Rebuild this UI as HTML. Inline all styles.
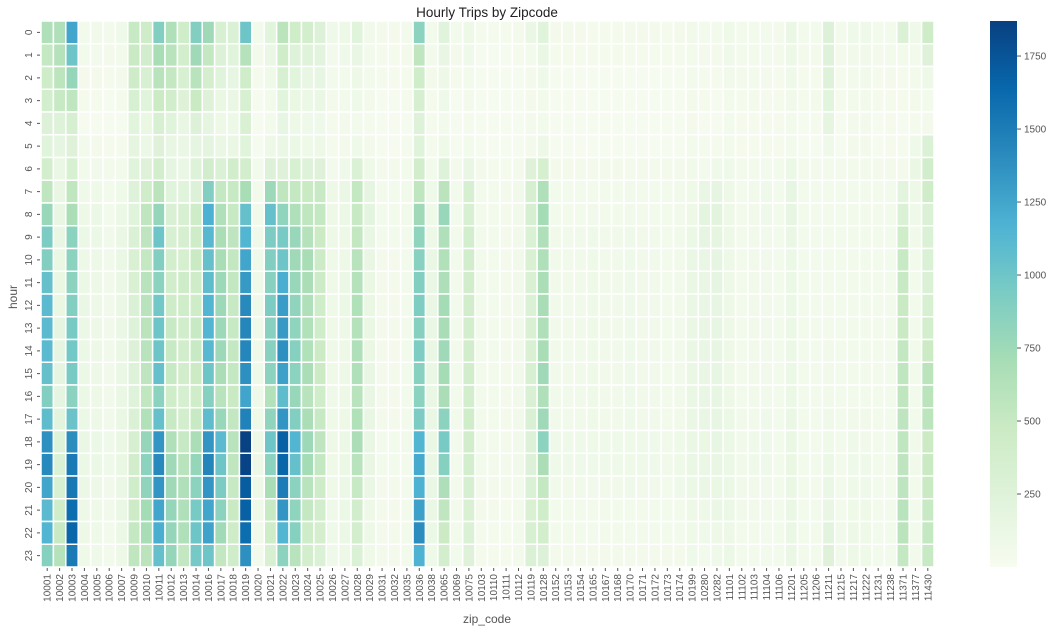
<!DOCTYPE html>
<html><head><meta charset="utf-8"><style>
html,body{margin:0;padding:0;background:#fff;}
svg{display:block;font-family:"Liberation Sans","DejaVu Sans",sans-serif;}
</style></head><body>
<svg id="chart" width="1056" height="630" viewBox="0 0 1056 630" xmlns="http://www.w3.org/2000/svg">
<defs>
<linearGradient id="cbgrad" x1="0" y1="1" x2="0" y2="0">
<stop offset="0" stop-color="#f7fcf0"/><stop offset="0.125" stop-color="#e0f3db"/><stop offset="0.25" stop-color="#ccebc5"/><stop offset="0.375" stop-color="#a8ddb5"/><stop offset="0.5" stop-color="#7bccc4"/><stop offset="0.625" stop-color="#4eb3d3"/><stop offset="0.75" stop-color="#2b8cbe"/><stop offset="0.875" stop-color="#0868ac"/><stop offset="1" stop-color="#084081"/>
</linearGradient>
</defs>
<text x="487" y="17" text-anchor="middle" font-size="13.5" fill="#222">Hourly Trips by Zipcode</text>
<g id="cells"></g>
<g id="yaxis"></g>
<g id="xaxis"></g>
<text transform="translate(17,297) rotate(-90)" text-anchor="middle" font-size="12" fill="#555">hour</text>
<text x="487" y="623" text-anchor="middle" font-size="12" fill="#555">zip_code</text>
<rect x="990" y="21" width="27" height="546" fill="url(#cbgrad)"/>
<g id="cbaxis"></g>
</svg>
<script>
const zips = ["10001","10002","10003","10004","10005","10006","10007","10009","10010","10011","10012","10013","10014","10016","10017","10018","10019","10020","10021","10022","10023","10024","10025","10026","10027","10028","10029","10031","10032","10035","10036","10038","10065","10069","10075","10103","10110","10111","10112","10119","10128","10152","10153","10154","10165","10167","10168","10170","10171","10172","10173","10174","10199","10280","10282","11101","11102","11103","11104","11106","11201","11205","11206","11211","11215","11217","11222","11231","11238","11371","11377","11430"];
const hours = ["0","1","2","3","4","5","6","7","8","9","10","11","12","13","14","15","16","17","18","19","20","21","22","23"];
const cbTicks = [250,500,750,1000,1250,1500,1750];
const vmin = 0, vmax = 1870;
// trips[zipIndex][hour]
const trips = [
[650,520,430,380,280,230,380,550,780,930,900,1050,1100,1100,1100,1050,900,1080,1380,1420,1250,1100,1150,880],
[650,620,570,500,270,170,120,150,150,150,140,140,140,170,170,170,170,200,270,300,330,420,500,620],
[1250,1000,800,550,350,250,330,550,680,850,850,850,900,950,980,950,850,1020,1400,1520,1530,1600,1650,1520],
[60,50,40,30,20,50,60,80,100,110,100,110,120,110,110,110,110,110,120,110,110,100,100,90],
[70,60,40,30,20,40,70,90,110,110,100,100,100,100,100,100,100,100,110,110,100,90,90,80],
[50,40,30,20,15,30,50,60,60,70,70,70,70,70,70,70,70,70,80,80,70,70,60,50],
[80,60,40,30,20,30,60,90,110,120,120,120,120,120,120,120,120,130,140,140,130,120,110,100],
[500,480,440,330,220,180,230,270,230,300,320,320,290,260,280,260,240,300,350,400,420,460,520,550],
[450,400,330,230,140,110,250,420,550,560,520,600,600,580,600,560,540,640,800,850,820,720,700,580],
[900,700,600,470,330,250,380,580,800,1000,900,850,980,1000,1000,1050,850,1050,1350,1420,1350,1250,1200,1050],
[650,600,520,400,230,150,170,230,310,330,380,400,450,500,500,500,420,500,650,750,750,800,800,800],
[420,380,330,250,150,120,130,230,330,350,360,430,420,400,400,400,340,380,500,600,650,650,650,530],
[900,750,600,480,280,170,260,280,440,450,480,450,450,500,500,470,420,500,680,800,850,950,1000,960],
[750,520,370,250,180,190,400,900,1180,1120,1050,1080,1150,1150,1120,1000,880,1080,1350,1450,1350,1250,1270,1000],
[330,280,230,140,100,130,300,520,650,680,700,760,760,760,760,680,600,780,1100,1000,930,850,740,530],
[300,230,160,120,100,120,400,500,500,560,530,530,500,500,520,520,480,530,600,550,500,480,430,420],
[1000,620,420,330,320,230,380,700,1050,1150,1250,1320,1420,1440,1440,1380,1260,1470,1860,1850,1700,1680,1600,1380],
[60,40,30,20,15,20,50,60,70,80,80,80,80,80,80,80,80,90,100,100,100,90,70,60],
[220,130,90,60,50,100,280,760,1050,930,900,870,930,870,870,850,630,820,1000,850,700,500,430,330],
[580,420,330,220,160,130,250,550,830,950,1000,1200,1300,1320,1380,1280,1080,1350,1680,1650,1500,1350,1150,850],
[420,270,220,140,100,110,330,520,650,780,750,780,820,830,880,850,780,900,1150,1050,850,830,880,600],
[380,240,150,110,80,90,270,480,550,620,700,680,650,640,640,680,600,680,760,720,600,520,440,380],
[280,200,160,120,80,100,250,500,520,470,460,460,420,420,470,470,420,500,560,520,440,400,370,300],
[80,60,50,40,30,30,60,100,100,100,90,90,90,90,90,90,80,90,100,90,90,80,80,80],
[100,80,60,50,40,40,80,120,110,100,100,110,110,100,100,100,100,100,110,110,110,110,110,100],
[230,150,100,80,60,80,300,520,500,530,600,620,640,620,650,650,600,640,680,600,500,400,380,300],
[70,60,50,40,30,40,90,170,190,150,150,140,140,140,140,150,150,150,150,150,120,100,100,90],
[40,35,30,25,20,25,40,50,50,50,45,45,45,45,45,45,45,45,50,50,45,45,45,40],
[40,35,30,25,20,25,40,50,50,50,45,45,45,45,45,45,45,45,50,50,45,45,45,40],
[50,40,35,30,25,30,50,70,70,60,60,60,60,60,60,60,60,60,70,60,60,60,55,50],
[850,550,420,340,270,240,400,550,750,830,870,900,920,880,920,870,850,930,1150,1220,1170,1280,1400,1170],
[60,50,40,30,30,30,50,80,90,100,120,120,130,130,130,130,120,120,130,130,120,120,110,90],
[230,150,100,80,60,90,260,580,780,650,640,660,720,700,750,720,680,850,950,880,660,550,470,380],
[50,40,30,25,20,25,40,60,60,60,55,55,55,55,55,55,55,55,60,60,55,55,50,50],
[100,80,50,40,30,50,150,350,330,380,400,400,400,380,400,400,380,420,400,380,350,320,300,250],
[30,25,20,20,15,20,40,50,50,50,50,50,50,50,50,50,50,50,50,50,45,40,35,30],
[30,25,20,20,15,20,35,50,50,50,50,50,50,50,50,50,50,50,50,45,40,40,35,30],
[30,25,20,20,15,20,35,45,45,45,45,45,45,45,45,45,45,45,45,40,40,35,35,30],
[40,30,25,20,15,20,45,70,70,70,65,65,65,65,65,65,65,70,70,65,60,55,50,45],
[120,60,40,40,40,40,250,340,340,300,320,320,300,320,320,330,310,310,280,280,300,320,330,300],
[230,120,80,60,60,100,360,650,720,650,650,680,700,650,700,750,650,750,850,680,520,420,380,280],
[40,30,25,20,15,20,40,60,60,70,70,70,70,70,70,70,70,70,80,80,70,60,50,45],
[40,30,25,20,15,20,40,60,60,70,70,70,70,70,70,70,70,70,80,80,70,60,50,45],
[40,30,25,20,15,20,40,60,60,70,70,70,70,70,70,70,70,70,80,80,70,60,50,45],
[35,30,25,20,15,20,40,60,70,80,90,90,90,90,90,90,90,90,90,80,70,60,50,40],
[35,30,25,20,15,20,40,60,60,70,70,70,70,70,70,70,70,70,80,80,70,60,50,45],
[35,30,25,20,15,20,40,60,60,70,70,70,70,70,70,70,70,70,80,80,70,60,50,45],
[40,30,25,20,15,20,40,70,70,80,80,80,80,80,80,80,80,80,90,90,80,60,50,45],
[40,30,25,20,15,20,40,60,60,70,70,70,70,70,70,70,70,70,80,80,70,60,50,45],
[40,30,25,20,15,20,40,60,60,70,70,70,70,70,70,70,70,70,80,80,70,60,50,45],
[35,30,25,20,15,20,40,60,60,60,60,60,60,60,60,60,60,60,70,70,60,55,50,40],
[40,30,25,20,15,20,40,70,70,70,70,70,70,70,70,70,70,70,90,90,80,60,50,45],
[70,60,50,40,40,50,70,90,100,110,120,120,120,120,120,120,120,120,120,120,110,100,90,80],
[50,40,35,30,25,30,60,150,190,170,150,150,150,150,150,150,150,150,140,130,120,100,80,60],
[50,40,30,25,20,30,80,170,200,180,170,170,160,160,160,160,160,160,160,150,140,120,100,80],
[90,80,70,60,60,60,80,100,100,100,100,100,100,100,100,100,100,110,110,110,110,110,100,110],
[60,50,40,35,30,35,50,60,60,60,60,60,60,60,60,60,60,70,70,70,70,70,60,60],
[60,60,50,40,35,35,50,70,70,70,70,70,70,70,70,70,70,70,80,80,70,70,60,60],
[60,50,40,35,35,35,60,80,80,70,70,70,70,70,70,70,70,80,80,80,70,70,60,60],
[40,40,35,30,30,30,50,60,60,60,60,60,60,60,60,60,60,60,60,60,60,60,50,50],
[120,100,80,70,60,60,110,160,160,130,110,110,110,110,110,110,110,130,140,140,140,130,120,120],
[50,40,35,30,25,25,40,50,50,50,50,50,50,50,50,50,50,50,50,50,50,50,50,50],
[50,40,35,40,30,25,40,50,50,50,50,50,50,50,50,50,50,50,50,50,50,50,50,50],
[280,270,270,220,180,80,60,60,60,60,60,60,60,60,70,70,70,80,90,110,120,150,200,250],
[50,40,35,30,25,25,40,50,50,50,50,50,50,50,50,50,50,60,60,60,60,60,70,70],
[80,70,60,50,40,40,50,60,60,60,60,60,60,60,60,60,60,70,80,80,90,90,100,100],
[80,70,70,60,40,40,50,60,60,60,60,60,60,60,60,60,60,70,70,80,80,90,90,90],
[50,40,35,30,25,25,40,50,50,50,50,50,50,50,50,50,50,50,50,50,50,50,50,50],
[60,50,40,35,30,30,40,50,50,50,50,50,50,50,50,50,50,50,60,60,60,60,60,60],
[300,60,30,30,20,30,40,200,300,420,500,500,480,480,530,550,550,560,550,560,560,600,580,520],
[80,60,50,40,30,80,120,100,80,70,60,60,60,60,60,60,60,60,70,70,60,60,60,60],
[430,250,100,60,40,300,400,420,300,300,300,300,330,380,470,580,580,570,470,480,480,500,520,500]
];

const X0 = 41, X1 = 934, Y0 = 21, Y1 = 567;
const cw = (X1 - X0) / zips.length, ch = (Y1 - Y0) / hours.length;
const xPos = i => X0 + i * cw;
const yPos = j => Y0 + j * ch;
const cbY = v => Y1 - (v - vmin) / (vmax - vmin) * (Y1 - Y0);
const stops = ["#f7fcf0","#e0f3db","#ccebc5","#a8ddb5","#7bccc4","#4eb3d3","#2b8cbe","#0868ac","#084081"].map(h => [parseInt(h.substr(1,2),16),parseInt(h.substr(3,2),16),parseInt(h.substr(5,2),16)]);
function color(v){
  let t = Math.max(0, Math.min(1, (v - vmin) / (vmax - vmin))) * (stops.length - 1);
  let k = Math.min(Math.floor(t), stops.length - 2), f = t - k;
  const c = stops[k].map((a, n) => Math.round(a + (stops[k+1][n] - a) * f));
  return `rgb(${c[0]},${c[1]},${c[2]})`;
}
const NS = "http://www.w3.org/2000/svg";
function mk(tag, attrs, parent){ const e = document.createElementNS(NS, tag); for (const k in attrs) e.setAttribute(k, attrs[k]); parent.appendChild(e); return e; }
const cells = document.getElementById('cells');
trips.forEach((col, i) => {
  col.forEach((v, j) => {
    const r = mk('rect', {x: xPos(i), y: yPos(j), width: cw, height: ch, fill: color(v), stroke: '#fff', 'stroke-width': 1.5}, cells);
    
    
  });
});
const ya = document.getElementById('yaxis');
hours.forEach((h, j) => {
  const cy = yPos(j) + ch / 2;
  mk('line', {x1: X0 - 4, x2: X0 - 1, y1: cy, y2: cy, stroke: '#555', 'stroke-width': 1}, ya);
  const t = mk('text', {transform: `translate(32,${cy}) rotate(-90)`, 'text-anchor': 'middle', 'font-size': 10, fill: '#555'}, ya);
  t.textContent = h;
  
  
});
const xa = document.getElementById('xaxis');
zips.forEach((z, i) => {
  const cx = xPos(i) + cw / 2;
  mk('line', {x1: cx, x2: cx, y1: Y1 + 1, y2: Y1 + 4, stroke: '#555', 'stroke-width': 1}, xa);
  const t = mk('text', {transform: `translate(${cx + 3.5},${Y1 + 7}) rotate(-90)`, 'text-anchor': 'end', 'font-size': 10, fill: '#555'}, xa);
  t.textContent = z;
  
  
});
const cb = document.getElementById('cbaxis');
cbTicks.forEach(v => {
  const y = cbY(v);
  mk('line', {x1: 1017, x2: 1021, y1: y, y2: y, stroke: '#555', 'stroke-width': 1}, cb);
  const t = mk('text', {x: 1024, y: y + 3.5, 'font-size': 10, fill: '#555'}, cb);
  t.textContent = v;
  
  
});
</script>
</body></html>
